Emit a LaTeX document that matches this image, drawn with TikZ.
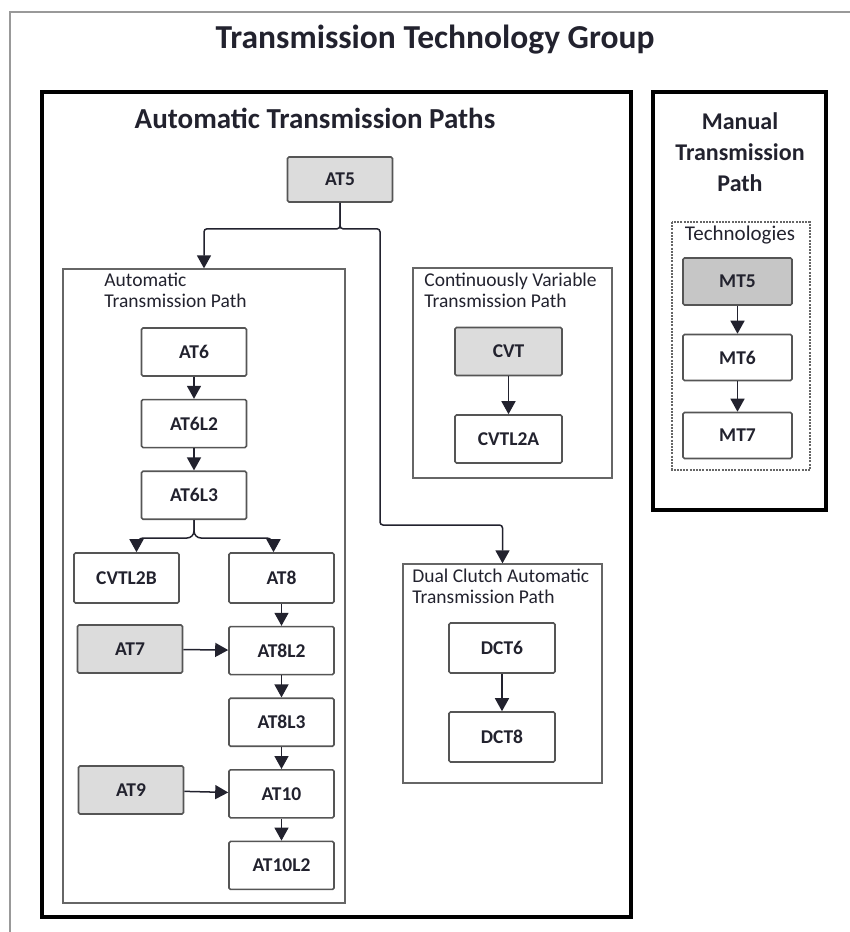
\documentclass[tikz,border=0pt]{standalone}
\usepackage{fontspec}
\setmainfont{Carlito}
\usetikzlibrary{arrows.meta,positioning}

\definecolor{txt}{HTML}{22222E}
\definecolor{boxgray}{HTML}{555555}
\definecolor{pathgray}{HTML}{666666}
\definecolor{framegray}{HTML}{999999}
\definecolor{shade}{HTML}{DCDCDC}
\definecolor{darkshade}{HTML}{C6C6C6}

\begin{document}
\begin{tikzpicture}[x=1pt, y=-1pt, node distance=22pt, thick]
        \tikzstyle{tech} = [rectangle, draw=boxgray, line width=1.6pt, fill=white, rounded corners=1.5pt, minimum width=105pt, minimum height=48pt, inner sep=0pt, text=txt, font=\fontsize{19.5}{19.5}\selectfont\bfseries]
        \tikzstyle{basetech} = [tech, fill=shade]
        \tikzstyle{pathbox} = [rectangle, draw=pathgray, line width=1.3pt, inner sep=0pt]
        \tikzstyle{pathlabel} = [anchor=north west, align=left, inner sep=0pt, text=txt, font=\fontsize{19.5}{21}\selectfont]
        \tikzstyle{heading} = [text=txt, align=center, font=\fontsize{24}{31}\selectfont\bfseries]
        \tikzstyle{link} = [draw=txt, line width=1.5pt, -{Triangle[width=14pt,length=13pt]}]

        \useasboundingbox (0,0) rectangle (850,932);
        \draw[framegray, line width=1.5pt] (10,932) -- (10,12) -- (850,12);
        \node[heading, font=\fontsize{33.5}{33.5}\selectfont\bfseries] (group) at (435,40) {Transmission Technology Group};

        % automatic paths
        \draw[line width=3.5pt] (42,92) rectangle (631,917);
        \node[heading, font=\fontsize{29}{29}\selectfont\bfseries] (autotitle) at (315,118) {Automatic Transmission Paths};
        \node[basetech, minimum height=45pt] (at5) at (340,179.5) {AT5};

        \node[pathbox, minimum width=282pt, minimum height=634pt] (atpath) at (204,586) {};
        \node[pathlabel] (atlabel) at (104,273) {Automatic\\Transmission Path};
        \node[tech] (at6) at (194,352) {AT6};
        \node[tech, below=of at6] (at6l2) {AT6L2};
        \node[tech, below=of at6l2] (at6l3) {AT6L3};
        \node[tech, minimum height=50pt] (cvtl2b) at (126.5,578) {CVTL2B};
        \node[tech, minimum height=50pt] (at8) at (281.5,578) {AT8};
        \node[tech, below=of at8] (at8l2) {AT8L2};
        \node[tech, below=of at8l2] (at8l3) {AT8L3};
        \node[tech, below=of at8l3] (at10) {AT10};
        \node[tech, below=of at10] (at10l2) {AT10L2};
        \node[basetech] (at7) at (130,649) {AT7};
        \node[basetech] (at9) at (131,790) {AT9};

        \node[pathbox, minimum width=199pt, minimum height=210pt] (cvtpath) at (512.5,373) {};
        \node[pathlabel] (cvtlabel) at (424,273) {Continuously Variable\\Transmission Path};
        \node[basetech, minimum width=107pt] (cvt) at (508.5,351.5) {CVT};
        \node[tech, minimum width=107pt] (cvtl2a) at (508.5,439) {CVTL2A};

        \node[pathbox, minimum width=199pt, minimum height=219pt] (dctpath) at (502.5,673.5) {};
        \node[pathlabel] (dctlabel) at (412,569) {Dual Clutch Automatic\\Transmission Path};
        \node[tech, minimum width=106pt, minimum height=50pt] (dct6) at (502,648) {DCT6};
        \node[tech, minimum width=106pt, minimum height=50pt] (dct8) at (502,737) {DCT8};

        % manual path
        \draw[line width=3.5pt] (653,92) rectangle (826,510);
        \node[heading] (mantitle) at (740,152) {Manual\\Transmission\\Path};
        \draw[pathgray, line width=1.3pt, dash pattern=on 2pt off 1.2pt] (672,222) rectangle (810,470);
        \node[text=txt, font=\fontsize{21}{21}\selectfont] (techlabel) at (740,235) {Technologies};
        \node[tech, fill=darkshade, minimum width=109pt, minimum height=47pt] (mt5) at (737.5,281.5) {MT5};
        \node[tech, minimum width=109pt, minimum height=46pt] (mt6) at (737.5,357.5) {MT6};
        \node[tech, minimum width=109pt, minimum height=46pt] (mt7) at (737.5,435.5) {MT7};

        \path [link, rounded corners=3pt] (at5.south) -- ++(0,26) -| (atpath.north);
        \path [link, rounded corners=3pt] (at5.south) -- ++(0,26) -| (380,525) -| (dctpath.north);
        \path [link] (at6) -- (at6l2);
        \path [link] (at6l2) -- (at6l3);
        \path [link, rounded corners=7pt] (at6l3.south) -- ++(0,18) -| ([xshift=10pt]cvtl2b.north);
        \path [link, rounded corners=7pt] (at6l3.south) -- ++(0,18) -| ([xshift=-8pt]at8.north);
        \path [link] (at8) -- (at8l2);
        \path [link] (at7) -- (at8l2);
        \path [link] (at8l2) -- (at8l3);
        \path [link] (at8l3) -- (at10);
        \path [link] (at9) -- (at10);
        \path [link] (at10) -- (at10l2);
        \path [link] (cvt) -- (cvtl2a);
        \path [link] (dct6) -- (dct8);
        \path [link] (mt5) -- (mt6);
        \path [link] (mt6) -- (mt7);
    \end{tikzpicture}
\end{document}
